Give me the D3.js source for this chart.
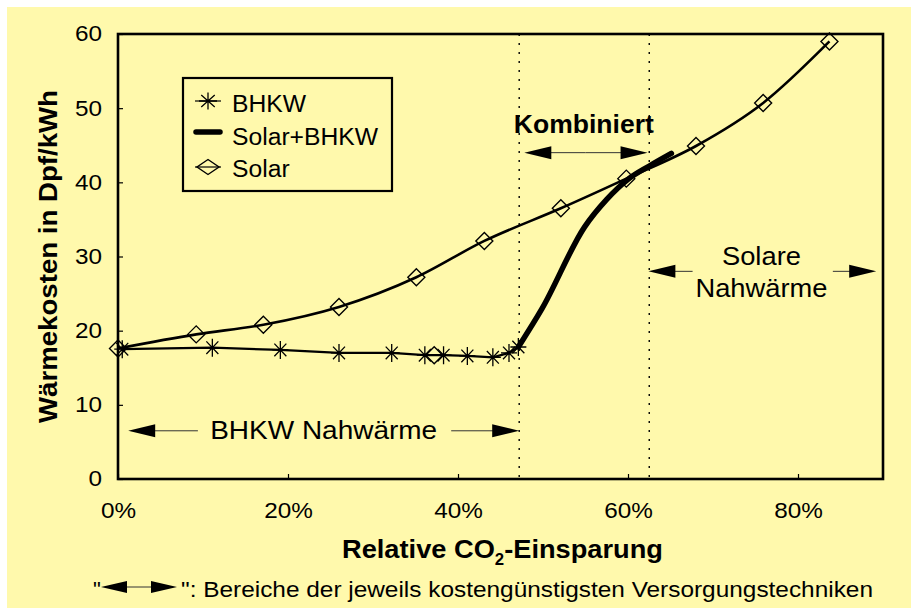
<!DOCTYPE html>
<html>
<head>
<meta charset="utf-8">
<script src="https://cdn.jsdelivr.net/npm/d3@7"></script>
<style>
  body { margin: 0; background: #fff; }
  svg text { font-family: "Liberation Sans", Arial, Helvetica, sans-serif; fill: #000; }
</style>
</head>
<body>
<svg id="chart" width="911" height="608"></svg>
<script>
// values (x in % CO2 saving, y in Dpf/kWh)
const solarX = [0, 9.2, 17.1, 26.0, 35.1, 43.1, 52.1, 59.8, 68.0, 75.9, 83.7];
const solarY = [17.6, 19.5, 20.8, 23.2, 27.2, 32.1, 36.5, 40.5, 44.9, 50.7, 59.0];
const bhkwX = [0.5, 11.1, 19.1, 26.0, 32.2, 36.1, 38.3, 41.1, 44.1, 46.0, 47.1];
const bhkwY = [17.5, 17.7, 17.4, 17.0, 17.0, 16.7, 16.7, 16.6, 16.4, 17.0, 17.8];
const strayX = [37.2];   // lone diamond sitting in the BHKW row
const strayY = [16.7];
const combX = [47.1, 49.9, 54.9, 57.5, 60.0, 62.5, 65.1];
const combY = [17.8, 23.0, 34.0, 37.7, 40.4, 42.2, 43.9];
const xTicks = [0, 20, 40, 60, 80];
const yTicks = [0, 10, 20, 30, 40, 50, 60];
const regionLines = [47.2, 62.5];

const svg = d3.select('#chart');
svg.append('rect').attr('x', 7).attr('y', 7).attr('width', 904).attr('height', 601).attr('fill', '#fff9ac');

const margin = {left: 118, top: 34, right: 28, bottom: 129};
const width = 911 - margin.left - margin.right;
const height = 608 - margin.top - margin.bottom;
const x = d3.scaleLinear().domain([0, 90]).range([0, width]);
const y = d3.scaleLinear().domain([0, 60]).range([height, 0]);
const chart = svg.append('g').attr('transform', `translate(${margin.left}, ${margin.top})`);

// the scan is a bit wider than the font: stretch text horizontally
function widen(sel, s) {
    sel.each(function() {
        const t = d3.select(this);
        t.attr('textLength', this.getComputedTextLength() * s).attr('lengthAdjust', 'spacingAndGlyphs');
    });
}
function fit(sel, w) {
    return sel.attr('textLength', w).attr('lengthAdjust', 'spacingAndGlyphs');
}

// axes with inward ticks
const yAxis = chart.append('g').call(d3.axisLeft(y).tickValues(yTicks).tickSize(-5).tickPadding(16));
const xAxis = chart.append('g').attr('transform', `translate(0, ${height})`)
    .call(d3.axisBottom(x).tickValues(xTicks).tickSize(-5).tickPadding(24).tickFormat(d => d + '%'));
[yAxis, xAxis].forEach(a => {
    a.select('.domain').remove();
    a.selectAll('line').attr('stroke', '#000').attr('stroke-width', 1.2);
    a.selectAll('text').style('font-size', '21.5px').attr('fill', '#000');
    widen(a.selectAll('text'), 1.13);
});

// dotted region boundaries
chart.selectAll('.region').data(regionLines).enter().append('line')
    .attr('x1', d => x(d)).attr('x2', d => x(d)).attr('y1', 0).attr('y2', height)
    .attr('stroke', '#000').attr('stroke-width', 1.4).attr('stroke-dasharray', '2,7');

const solar = solarX.map((v, i) => [v, solarY[i]]);
const bhkw = bhkwX.map((v, i) => [v, bhkwY[i]]);
const comb = combX.map((v, i) => [v, combY[i]]);
const stray = strayX.map((v, i) => [v, strayY[i]]);

chart.append('path').datum(solar).attr('d', d3.line().x(d => x(d[0])).y(d => y(d[1])).curve(d3.curveMonotoneX))
    .attr('fill', 'none').attr('stroke', '#000').attr('stroke-width', 2.6);
chart.append('path').datum(bhkw).attr('d', d3.line().x(d => x(d[0])).y(d => y(d[1])))
    .attr('fill', 'none').attr('stroke', '#000').attr('stroke-width', 2.2);
chart.append('path').datum(comb).attr('d', d3.line().x(d => x(d[0])).y(d => y(d[1])).curve(d3.curveMonotoneX))
    .attr('fill', 'none').attr('stroke', '#000').attr('stroke-width', 5.5).attr('stroke-linecap', 'round');

function diamond(g, rx, ry) {
    g.append('path').attr('d', `M0,${-ry}L${rx},0L0,${ry}L${-rx},0Z`)
        .attr('fill', 'none').attr('stroke', '#000').attr('stroke-width', 1.4);
}
function star(g, rx, ry) {
    const dx = rx * 0.75, dy = ry * 0.7;
    g.append('path').attr('d', `M0,${-ry}V${ry}M${-rx},0H${rx}M${-dx},${-dy}L${dx},${dy}M${-dx},${dy}L${dx},${-dy}`)
        .attr('fill', 'none').attr('stroke', '#000').attr('stroke-width', 1.3);
}
chart.selectAll('.dia').data(solar.concat(stray)).enter().append('g')
    .attr('transform', d => `translate(${x(d[0])},${y(d[1])})`).each(function() { diamond(d3.select(this), 8.5, 8.5); });
chart.selectAll('.star').data(bhkw).enter().append('g')
    .attr('transform', d => `translate(${x(d[0])},${y(d[1])})`).each(function() { star(d3.select(this), 8, 9); });

// frame
chart.append('rect').attr('width', width).attr('height', height)
    .attr('fill', 'none').attr('stroke', '#000').attr('stroke-width', 2.6);

// arrows: tip, tail in data x, y in data units
function halfArrow(g, tip, tail, yy) {
    const t = x(tip), s = x(tail), yp = y(yy), dir = Math.sign(s - t);
    g.append('line').attr('x1', t + dir * 20).attr('x2', s).attr('y1', yp).attr('y2', yp)
        .attr('stroke', '#333').attr('stroke-width', 1);
    g.append('path').attr('d', `M${t},${yp}L${t + dir * 27},${yp - 6.5}L${t + dir * 27},${yp + 6.5}Z`).attr('fill', '#000');
}
halfArrow(chart, 1.2, 9.4, 6.5);
halfArrow(chart, 47.2, 39.2, 6.5);
halfArrow(chart, 47.8, 55, 44.0);
halfArrow(chart, 62.3, 55, 44.0);
halfArrow(chart, 62.4, 67.6, 28.0);
halfArrow(chart, 89.2, 84.1, 28.0);

fit(chart.append('text').attr('x', x(24.2)).attr('y', y(5.4)).attr('text-anchor', 'middle')
    .style('font-size', '25px').text('BHKW Nahwärme'), 227);
fit(chart.append('text').attr('x', x(54.8)).attr('y', y(46.65)).attr('text-anchor', 'middle')
    .style('font-size', '25px').style('font-weight', 'bold').text('Kombiniert'), 140);
fit(chart.append('text').attr('x', x(75.7)).attr('y', y(28.85)).attr('text-anchor', 'middle')
    .style('font-size', '25.5px').text('Solare'), 79);
fit(chart.append('text').attr('x', x(75.7)).attr('y', y(24.6)).attr('text-anchor', 'middle')
    .style('font-size', '25.5px').text('Nahwärme'), 132);

// legend
const legend = svg.append('g').attr('transform', 'translate(183, 78)');
legend.append('rect').attr('width', 209).attr('height', 113).attr('fill', 'none')
    .attr('stroke', '#000').attr('stroke-width', 2.2);
legend.append('line').attr('x1', 12).attr('x2', 38).attr('y1', 23).attr('y2', 23).attr('stroke', '#000').attr('stroke-width', 1.2);
star(legend.append('g').attr('transform', 'translate(25, 23)'), 9, 8.5);
legend.append('line').attr('x1', 13).attr('x2', 37).attr('y1', 54).attr('y2', 54)
    .attr('stroke', '#000').attr('stroke-width', 5.5).attr('stroke-linecap', 'round');
legend.append('line').attr('x1', 12).attr('x2', 38).attr('y1', 89).attr('y2', 89).attr('stroke', '#000').attr('stroke-width', 1.2);
diamond(legend.append('g').attr('transform', 'translate(25, 89)'), 11, 7.5);
const legendNames = ['BHKW', 'Solar+BHKW', 'Solar'];
const legendText = legend.selectAll('.lt').data(legendNames).enter().append('text')
    .attr('x', 49).attr('y', (d, i) => 34 + i * 32.5).style('font-size', '23.5px').text(d => d);
widen(legendText, 1.05);

// axis titles
fit(svg.append('text').attr('transform', 'translate(57, 256.5) scale(1.17, 1) rotate(-90)').attr('text-anchor', 'middle')
    .style('font-size', '22.7px').style('font-weight', 'bold').text('Wärmekosten in Dpf/kWh'), 333);
const xl = svg.append('text').attr('x', 342).attr('y', 558)
    .style('font-size', '26px').style('font-weight', 'bold');
xl.append('tspan').text('Relative CO');
xl.append('tspan').attr('dy', 7).style('font-size', '16px').text('2');
xl.append('tspan').attr('dy', -7).text('-Einsparung');
widen(xl, 321 / xl.node().getComputedTextLength());

// footnote
const foot = svg.append('g');
foot.append('text').attr('x', 93).attr('y', 597).style('font-size', '22px').text('"');
foot.append('line').attr('x1', 115).attr('x2', 165).attr('y1', 587).attr('y2', 587).attr('stroke', '#333').attr('stroke-width', 1);
foot.append('path').attr('d', 'M101,587L127,581L127,593Z').attr('fill', '#000');
foot.append('path').attr('d', 'M177,587L151,581L151,593Z').attr('fill', '#000');
fit(foot.append('text').attr('x', 181).attr('y', 597).style('font-size', '22px')
    .text('": Bereiche der jeweils kostengünstigsten Versorgungstechniken'), 692);
</script>
</body>
</html>
